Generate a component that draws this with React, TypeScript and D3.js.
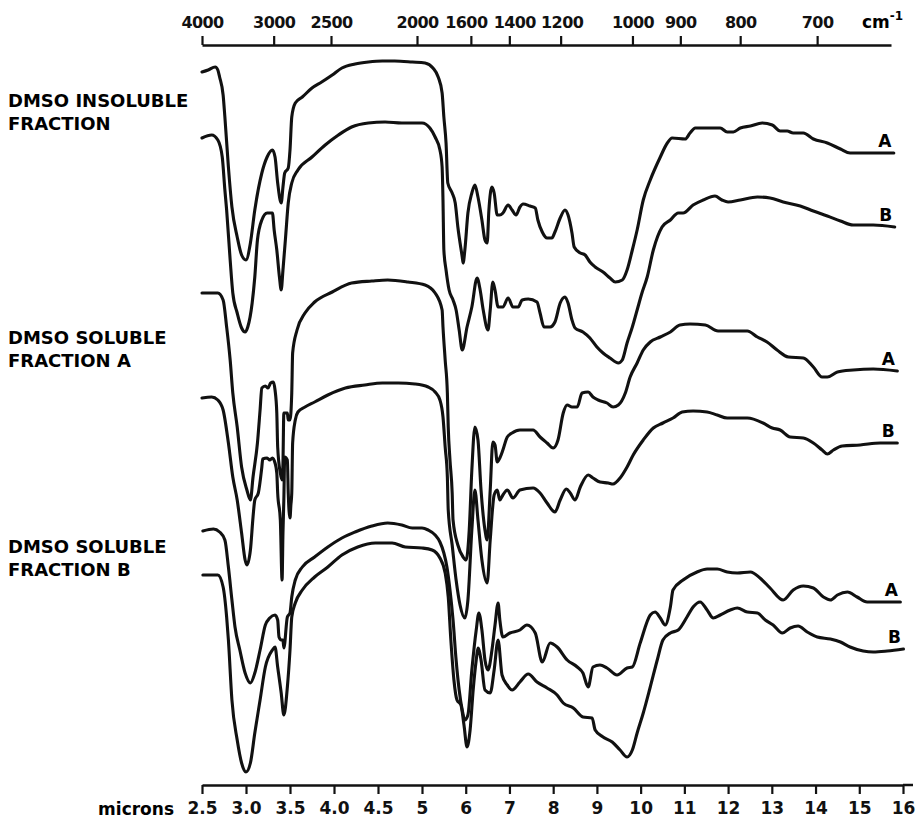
import React, { useEffect, useRef } from 'react';
import * as d3 from 'd3';

// bottom scale, microns
const micronTicks = [2.5, 3, 3.5, 4, 4.5, 5, 6, 7, 8, 9, 10, 11, 12, 13, 14, 15, 16];
const micronLabels = ['2.5', '3.0', '3.5', '4.0', '4.5', '5', '6', '7', '8', '9', '10', '11', '12', '13', '14', '15', '16'];
// top scale, wavenumbers
const wavenumberTicks = [4000, 3000, 2500, 2000, 1600, 1400, 1200, 1000, 900, 800, 700];

type Pt = [number, number]; // [micron, relative transmittance]

const insolubleA: Pt[] = [
  [2.5, 71.3], [2.57, 71.5], [2.65, 71.8], [2.68, 71.5], [2.7, 70.8], [2.74, 69.0], [2.76, 66.8], [2.8, 61.8],
  [2.84, 57.8], [2.9, 54.8], [2.95, 53.0], [3.0, 52.5], [3.05, 54.2], [3.1, 57.5], [3.18, 61.2], [3.24, 62.8],
  [3.3, 63.5], [3.33, 62.8], [3.36, 60.2], [3.4, 58.2], [3.42, 59.8], [3.44, 61.2], [3.48, 61.7], [3.5, 63.5],
  [3.52, 66.8], [3.56, 68.2], [3.64, 68.8], [3.75, 69.7], [3.86, 70.3], [3.98, 71.0], [4.09, 71.7], [4.24, 72.1],
  [4.39, 72.3], [4.55, 72.4], [4.69, 72.4], [4.89, 72.3], [5.07, 72.2], [5.25, 71.7], [5.37, 70.8], [5.46, 69.2],
  [5.5, 66.8], [5.55, 64.2], [5.59, 60.2], [5.69, 59.2], [5.76, 58.2], [5.82, 55.8], [5.92, 52.8], [5.94, 52.2],
  [5.98, 53.5], [6.05, 57.2], [6.14, 59.2], [6.21, 60.0], [6.28, 58.8], [6.37, 56.5], [6.44, 54.5], [6.49, 54.2],
  [6.53, 57.5], [6.6, 59.8], [6.65, 59.2], [6.72, 57.0], [6.78, 57.0], [6.85, 57.2], [6.97, 58.0], [7.06, 57.5],
  [7.15, 57.0], [7.24, 57.8], [7.31, 58.1], [7.47, 57.9], [7.59, 57.7], [7.65, 56.5], [7.75, 55.3], [7.86, 54.7],
  [7.97, 54.7], [8.04, 55.3], [8.16, 56.7], [8.27, 57.5], [8.34, 57.0], [8.43, 55.2], [8.48, 53.8], [8.62, 53.2],
  [8.73, 53.0], [8.84, 52.3], [8.96, 51.8], [9.14, 51.3], [9.3, 50.7], [9.42, 50.3], [9.58, 50.5], [9.69, 51.5],
  [9.81, 53.5], [9.92, 55.5], [10.06, 58.5], [10.22, 60.5], [10.45, 62.8], [10.61, 64.2], [10.72, 64.7], [11.02, 64.6],
  [11.13, 65.2], [11.25, 65.7], [11.52, 65.7], [11.82, 65.7], [11.98, 65.3], [12.12, 65.3], [12.28, 65.7], [12.51, 65.9],
  [12.78, 66.2], [13.01, 66.0], [13.19, 65.4], [13.35, 65.4], [13.49, 65.2], [13.72, 65.2], [13.95, 64.6], [14.27, 64.2],
  [14.57, 63.6], [14.79, 63.2], [15.18, 63.2], [15.79, 63.2],
];

const insolubleB: Pt[] = [
  [2.5, 64.7], [2.61, 65.0], [2.68, 64.5], [2.73, 62.8], [2.76, 59.5], [2.78, 57.5], [2.82, 52.5], [2.85, 49.2],
  [2.9, 47.2], [2.95, 45.7], [2.99, 45.3], [3.02, 45.8], [3.07, 48.2], [3.1, 50.8], [3.13, 54.5], [3.18, 56.5],
  [3.24, 57.2], [3.3, 57.2], [3.32, 55.5], [3.35, 53.5], [3.38, 50.8], [3.4, 49.5], [3.42, 51.5], [3.45, 54.8],
  [3.48, 58.2], [3.52, 60.2], [3.59, 61.5], [3.75, 62.8], [3.9, 64.0], [4.05, 65.0], [4.2, 65.8], [4.39, 66.2],
  [4.58, 66.3], [4.77, 66.2], [5.0, 66.2], [5.18, 65.7], [5.3, 64.8], [5.41, 63.5], [5.46, 61.8], [5.48, 58.5],
  [5.5, 53.5], [5.55, 51.5], [5.62, 49.5], [5.71, 48.5], [5.78, 47.5], [5.85, 45.5], [5.92, 43.5], [6.03, 45.8],
  [6.14, 47.8], [6.26, 50.7], [6.33, 49.5], [6.4, 47.5], [6.51, 45.5], [6.56, 47.5], [6.62, 50.3], [6.67, 49.5],
  [6.74, 47.8], [6.85, 47.8], [6.97, 48.7], [7.08, 47.8], [7.2, 47.8], [7.29, 48.5], [7.43, 48.6], [7.63, 48.3],
  [7.7, 47.2], [7.79, 45.8], [7.93, 45.8], [8.04, 46.3], [8.16, 48.2], [8.27, 48.8], [8.34, 48.2], [8.43, 46.5],
  [8.5, 45.7], [8.68, 45.3], [8.84, 44.7], [9.0, 43.8], [9.14, 43.2], [9.3, 42.7], [9.49, 42.2], [9.58, 42.5],
  [9.69, 44.2], [9.81, 45.8], [9.92, 47.5], [10.03, 49.2], [10.15, 50.8], [10.29, 53.5], [10.49, 55.8], [10.68, 56.5],
  [10.86, 57.2], [10.97, 57.2], [11.2, 58.0], [11.43, 58.5], [11.7, 58.9], [11.86, 58.5], [12.0, 58.3], [12.28, 58.5],
  [12.67, 58.8], [12.96, 58.7], [13.26, 58.3], [13.65, 57.9], [13.95, 57.4], [14.27, 56.9], [14.57, 56.4], [14.86, 56.0],
  [15.32, 56.0], [15.81, 55.8],
];

const solubleAA: Pt[] = [
  [2.5, 49.2], [2.68, 49.2], [2.74, 48.5], [2.78, 45.8], [2.82, 42.5], [2.85, 39.2], [2.9, 35.8], [2.95, 31.8],
  [3.01, 29.5], [3.05, 28.5], [3.08, 30.8], [3.13, 34.2], [3.16, 37.5], [3.18, 39.7], [3.22, 39.9], [3.25, 39.7],
  [3.28, 40.2], [3.31, 40.3], [3.33, 39.5], [3.35, 37.2], [3.36, 33.8], [3.39, 31.2], [3.41, 30.5], [3.42, 32.2],
  [3.43, 37.2], [3.47, 37.2], [3.48, 36.5], [3.5, 36.5], [3.52, 39.2], [3.53, 43.2], [3.58, 45.5], [3.67, 47.2],
  [3.78, 48.3], [3.98, 49.3], [4.2, 50.2], [4.43, 50.4], [4.61, 50.5], [4.84, 50.3], [5.07, 50.0], [5.3, 49.2],
  [5.46, 47.5], [5.48, 45.8], [5.53, 42.5], [5.58, 39.2], [5.6, 35.8], [5.64, 32.5], [5.69, 29.2], [5.71, 26.5],
  [5.82, 24.0], [5.94, 22.8], [6.01, 22.5], [6.08, 25.5], [6.14, 31.5], [6.21, 35.8], [6.28, 34.5], [6.35, 29.5],
  [6.44, 25.5], [6.49, 24.5], [6.56, 29.5], [6.62, 34.3], [6.67, 34.0], [6.72, 32.3], [6.78, 32.7], [6.85, 33.5],
  [6.95, 34.8], [7.06, 35.2], [7.24, 35.5], [7.54, 35.5], [7.7, 34.8], [7.86, 34.2], [8.0, 33.7], [8.11, 34.5],
  [8.23, 37.2], [8.32, 38.0], [8.43, 37.8], [8.55, 37.8], [8.66, 39.2], [8.8, 39.3], [8.91, 38.8], [9.03, 38.5],
  [9.23, 38.2], [9.37, 37.8], [9.49, 38.0], [9.65, 39.2], [9.76, 40.8], [9.92, 42.2], [10.06, 43.5], [10.22, 44.3],
  [10.45, 44.8], [10.68, 45.3], [10.9, 46.0], [11.13, 46.1], [11.48, 46.0], [11.77, 45.4], [12.12, 45.4], [12.44, 45.4],
  [12.67, 44.8], [12.89, 44.3], [13.12, 43.5], [13.38, 42.8], [13.72, 42.7], [13.95, 41.8], [14.15, 40.8], [14.27, 40.8],
  [14.5, 41.3], [14.86, 41.5], [15.32, 41.6], [15.87, 41.4],
];

const solubleAB: Pt[] = [
  [2.5, 38.7], [2.61, 38.8], [2.68, 38.5], [2.74, 37.5], [2.8, 34.2], [2.85, 30.8], [2.9, 28.5], [2.95, 25.2],
  [2.99, 22.5], [3.01, 22.0], [3.05, 23.5], [3.08, 26.8], [3.1, 28.5], [3.14, 29.2], [3.18, 31.8], [3.19, 32.6],
  [3.24, 32.7], [3.27, 32.5], [3.3, 32.7], [3.33, 32.2], [3.35, 31.2], [3.36, 29.2], [3.39, 26.5], [3.41, 20.5],
  [3.42, 25.2], [3.43, 28.5], [3.44, 32.8], [3.47, 32.5], [3.48, 29.2], [3.5, 26.7], [3.51, 28.0], [3.52, 29.2],
  [3.53, 34.2], [3.56, 36.5], [3.59, 37.3], [3.67, 37.8], [3.78, 38.3], [3.93, 39.0], [4.13, 39.7], [4.35, 40.0],
  [4.55, 40.2], [4.73, 40.2], [4.92, 40.1], [5.14, 39.8], [5.3, 39.3], [5.41, 38.5], [5.48, 36.8], [5.53, 33.8],
  [5.58, 30.8], [5.6, 27.5], [5.69, 24.0], [5.78, 20.5], [5.87, 18.0], [5.98, 16.7], [6.05, 18.5], [6.14, 25.5],
  [6.21, 29.5], [6.28, 26.5], [6.37, 22.5], [6.49, 20.2], [6.56, 24.5], [6.65, 29.0], [6.72, 29.5], [6.78, 28.5],
  [6.85, 29.0], [6.95, 29.5], [7.08, 28.7], [7.24, 29.5], [7.54, 29.7], [7.7, 29.2], [7.86, 28.2], [8.04, 27.3],
  [8.16, 28.5], [8.3, 29.6], [8.39, 29.2], [8.5, 28.5], [8.62, 29.8], [8.8, 31.0], [8.91, 30.7], [9.07, 30.3],
  [9.26, 30.2], [9.37, 30.1], [9.53, 30.7], [9.69, 31.8], [9.83, 33.0], [10.06, 34.5], [10.29, 35.7], [10.51, 36.2],
  [10.74, 36.7], [10.95, 37.3], [11.2, 37.4], [11.52, 37.3], [11.75, 37.0], [11.98, 36.7], [12.44, 36.7], [12.8, 36.2],
  [13.01, 35.7], [13.19, 35.5], [13.42, 34.8], [13.72, 34.7], [13.95, 34.2], [14.15, 33.5], [14.27, 33.1], [14.41, 33.5],
  [14.61, 33.9], [15.02, 34.0], [15.48, 34.2], [15.87, 34.2],
];

const solubleBA: Pt[] = [
  [2.51, 25.4], [2.63, 25.6], [2.7, 25.3], [2.76, 24.5], [2.8, 21.8], [2.84, 18.5], [2.875, 15.8], [2.93, 13.5],
  [2.99, 11.2], [3.05, 10.2], [3.1, 11.2], [3.16, 13.5], [3.22, 16.0], [3.27, 16.7], [3.33, 17.0], [3.36, 16.5],
  [3.375, 14.8], [3.4, 14.5], [3.42, 14.5], [3.43, 13.7], [3.47, 16.8], [3.5, 17.2], [3.52, 18.8], [3.56, 20.5],
  [3.64, 21.8], [3.78, 22.8], [3.93, 23.8], [4.09, 24.7], [4.24, 25.3], [4.43, 25.9], [4.61, 26.2], [4.77, 26.0],
  [4.89, 25.7], [5.0, 25.7], [5.14, 25.5], [5.3, 25.0], [5.41, 24.3], [5.5, 23.2], [5.57, 21.8], [5.64, 19.5],
  [5.71, 16.5], [5.78, 12.5], [5.85, 9.5], [5.92, 7.5], [5.98, 6.5], [6.05, 7.0], [6.14, 11.5], [6.24, 15.5],
  [6.3, 17.2], [6.37, 15.5], [6.44, 12.5], [6.51, 11.5], [6.6, 13.5], [6.67, 16.0], [6.74, 18.2], [6.78, 16.5],
  [6.85, 14.8], [7.01, 15.2], [7.24, 15.5], [7.4, 16.0], [7.59, 15.2], [7.75, 12.3], [7.93, 14.2], [8.09, 13.8],
  [8.32, 12.5], [8.55, 11.8], [8.68, 11.2], [8.8, 9.8], [8.91, 11.8], [9.07, 12.0], [9.23, 11.7], [9.46, 11.0],
  [9.69, 11.7], [9.81, 11.8], [9.99, 14.2], [10.22, 17.0], [10.33, 17.3], [10.45, 16.7], [10.56, 16.0], [10.68, 17.8],
  [10.74, 19.5], [10.97, 20.5], [11.29, 21.3], [11.52, 21.6], [11.75, 21.6], [11.98, 21.3], [12.21, 21.2], [12.51, 21.3],
  [12.73, 20.7], [12.96, 19.7], [13.26, 18.5], [13.49, 19.5], [13.72, 19.9], [13.95, 19.7], [14.18, 18.8], [14.34, 18.5],
  [14.5, 19.0], [14.73, 19.3], [14.95, 18.8], [15.18, 18.3], [15.55, 18.3], [15.94, 18.3],
];

const solubleBB: Pt[] = [
  [2.51, 21.0], [2.68, 21.0], [2.74, 19.8], [2.78, 16.8], [2.8, 14.5], [2.84, 8.5], [2.9, 4.5], [2.95, 2.2],
  [3.0, 1.3], [3.05, 2.2], [3.1, 5.2], [3.16, 8.5], [3.22, 11.8], [3.3, 13.5], [3.33, 13.8], [3.36, 11.8],
  [3.4, 9.2], [3.43, 7.0], [3.47, 9.8], [3.5, 13.5], [3.52, 16.8], [3.56, 18.2], [3.64, 19.5], [3.78, 20.8],
  [3.93, 21.8], [4.09, 23.0], [4.27, 23.8], [4.47, 24.2], [4.66, 24.2], [4.81, 23.8], [5.0, 23.7], [5.23, 23.5],
  [5.41, 22.7], [5.53, 21.2], [5.6, 18.8], [5.66, 14.5], [5.73, 10.5], [5.8, 8.5], [5.89, 8.0], [5.96, 6.0],
  [6.03, 3.8], [6.1, 5.5], [6.17, 9.5], [6.24, 12.5], [6.28, 13.7], [6.35, 12.5], [6.44, 9.5], [6.56, 9.2],
  [6.65, 11.5], [6.74, 14.5], [6.83, 11.0], [6.95, 10.0], [7.06, 9.5], [7.24, 10.3], [7.43, 11.1], [7.63, 10.3],
  [7.86, 9.7], [8.09, 9.0], [8.23, 8.2], [8.46, 7.7], [8.68, 6.8], [8.89, 6.7], [8.96, 5.5], [9.14, 4.8],
  [9.35, 4.3], [9.53, 3.5], [9.69, 2.8], [9.81, 3.5], [9.92, 5.2], [10.06, 7.2], [10.22, 9.8], [10.38, 12.5],
  [10.51, 14.5], [10.68, 15.2], [10.86, 15.5], [11.06, 16.8], [11.2, 17.8], [11.36, 18.3], [11.52, 17.5], [11.66, 16.7],
  [11.82, 17.0], [12.05, 17.5], [12.21, 17.7], [12.44, 17.3], [12.67, 17.2], [12.85, 16.5], [13.03, 16.0], [13.24, 15.2],
  [13.42, 15.7], [13.6, 15.9], [13.81, 15.3], [14.04, 14.8], [14.34, 14.6], [14.57, 14.3], [14.79, 13.8], [15.09, 13.4],
  [15.32, 13.3], [15.64, 13.4], [16.01, 13.6],
];

const series = [
  { name: 'A', data: insolubleA },
  { name: 'B', data: insolubleB },
  { name: 'A', data: solubleAA },
  { name: 'B', data: solubleAB },
  { name: 'A', data: solubleBA },
  { name: 'B', data: solubleBB },
];

const groupLabels = [
  ['DMSO INSOLUBLE', 'FRACTION'],
  ['DMSO SOLUBLE', 'FRACTION A'],
  ['DMSO SOLUBLE', 'FRACTION B'],
];
const groupLabelTop = [107, 344, 553];

const W = 919;
const H = 821;
const FONT = '"DejaVu Sans", sans-serif';

const App = () => {
  const svgRef = useRef<SVGSVGElement>(null);

  useEffect(() => {
    const svg = d3.select(svgRef.current);
    svg.selectAll('*').remove();

    // the wavelength scale changes pitch at 5 microns
    const x = d3.scaleLinear().domain([2.5, 5, 16]).range([202, 422, 903]);
    const xTop = d3.scaleLinear().domain([2.5, 5, 16]).range([202, 417, 891]);
    const y = d3.scaleLinear().domain([0, 74]).range([785, 45]);

    const line = d3.line<Pt>()
      .curve(d3.curveMonotoneX)
      .x(d => x(d[0]))
      .y(d => y(d[1]));

    series.forEach(s => {
      svg.append('path')
        .datum(s.data)
        .attr('fill', 'none')
        .attr('stroke', '#111')
        .attr('stroke-width', 3.1)
        .attr('stroke-linejoin', 'round')
        .attr('stroke-linecap', 'round')
        .attr('d', line);

      const last = s.data[s.data.length - 1];
      svg.append('text')
        .attr('x', x(last[0]) - 9)
        .attr('y', y(last[1]) - 6)
        .attr('text-anchor', 'middle')
        .style('font-family', FONT)
        .style('font-weight', 'bold')
        .style('font-size', '17px')
        .text(s.name);
    });

    // bottom axis (microns)
    const bottom = svg.append('g')
      .attr('transform', `translate(0,${y(0)})`)
      .call(d3.axisBottom(x)
        .tickValues(micronTicks)
        .tickFormat((d, i) => micronLabels[i])
        .tickSize(9)
        .tickSizeOuter(0)
        .tickPadding(8));

    // the base line runs on a little past the 16 micron tick
    bottom.append('line')
      .attr('x1', x(16))
      .attr('x2', x(16) + 10)
      .attr('stroke', '#111')
      .attr('stroke-width', 2.5);

    // top axis (cm-1)
    const top = svg.append('g')
      .attr('transform', `translate(0,${y(74)})`)
      .call(d3.axisTop(xTop)
        .tickValues(wavenumberTicks.map(w => 10000 / w))
        .tickFormat((d, i) => String(wavenumberTicks[i]))
        .tickSize(9)
        .tickSizeOuter(0)
        .tickPadding(8));

    [bottom, top].forEach(g => {
      g.select('.domain').attr('stroke', '#111').attr('stroke-width', 2.5);
      g.selectAll('.tick line').attr('stroke', '#111').attr('stroke-width', 2.2);
      g.selectAll('.tick text')
        .style('font-family', FONT)
        .style('font-weight', 'bold')
        .style('font-size', '17px')
        .attr('fill', '#111');
    });

    // the crowded labels sit side by side, as typeset on the chart
    const nudge: Record<string, number> = { '1600': -5, '1400': 5, '1200': 1 };
    top.selectAll<SVGTextElement, number>('.tick text')
      .style('font-size', '16px')
      .style('letter-spacing', '-0.6px')
      .attr('dx', function () {
        const t = d3.select(this).text();
        return nudge[t] || 0;
      });

    svg.append('text')
      .attr('x', 174)
      .attr('y', 815)
      .attr('text-anchor', 'end')
      .style('font-family', FONT)
      .style('font-weight', 'bold')
      .style('font-size', '17px')
      .text('microns');

    const unit = svg.append('text')
      .attr('x', 862)
      .attr('y', 28)
      .style('font-family', FONT)
      .style('font-weight', 'bold')
      .style('font-size', '17px');
    unit.append('tspan').text('cm');
    unit.append('tspan').attr('dy', -8).style('font-size', '12px').text('-1');

    groupLabels.forEach((lines, i) => {
      lines.forEach((t, j) => {
        svg.append('text')
          .attr('x', 8)
          .attr('y', groupLabelTop[i] + j * 23)
          .style('font-family', FONT)
          .style('font-weight', 'bold')
          .style('font-size', '18px')
          .text(t);
      });
    });
  }, []);

  return (
    <svg
      ref={svgRef}
      width={W}
      height={H}
      style={{ position: 'absolute', left: 0, top: 0, background: '#fff' }}
    />
  );
};

export default App;
